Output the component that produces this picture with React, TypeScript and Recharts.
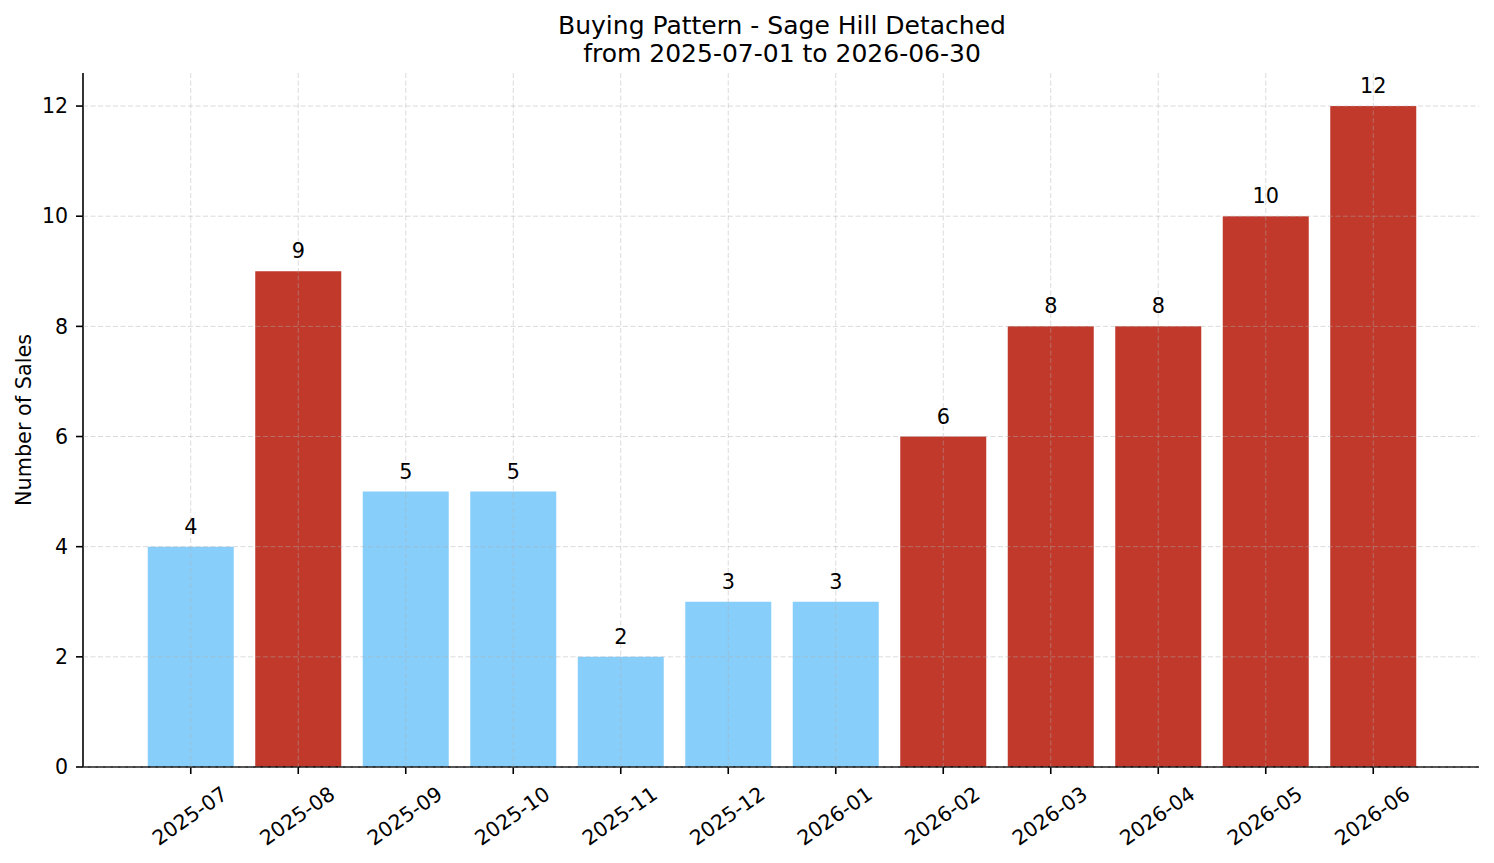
import React from 'react';
import { BarChart, Bar, XAxis, YAxis, CartesianGrid, Cell, LabelList } from 'recharts';

// Monthly sales counts
const months = [
  '2025-07', '2025-08', '2025-09', '2025-10', '2025-11', '2025-12',
  '2026-01', '2026-02', '2026-03', '2026-04', '2026-05', '2026-06',
];
const sales = [4, 9, 5, 5, 2, 3, 3, 6, 8, 8, 10, 12];
const yTicks = [0, 2, 4, 6, 8, 10, 12];

const titleLine1 = 'Buying Pattern - Sage Hill Detached';
const titleLine2 = 'from 2025-07-01 to 2026-06-30';
const yAxisTitle = 'Number of Sales';

const LOW_COLOR = '#87CEFA';
const HIGH_COLOR = '#C0392B';
const FONT = '"DejaVu Sans", Verdana, sans-serif';
const TICK_FONT_SIZE = 20.5;

// Months above the median are highlighted
const sortedSales = [...sales].sort((a, b) => a - b);
const mid = Math.floor(sortedSales.length / 2);
const median =
  sortedSales.length % 2 === 0
    ? (sortedSales[mid - 1] + sortedSales[mid]) / 2
    : sortedSales[mid];

const data = months.map((month, i) => ({ month, sales: sales[i] }));

const W = 1494;
const H = 863;

const MonthTick = (props: any) => {
  const { x, y, payload } = props;
  const cy = y + 42;
  return (
    <text
      x={x - 1}
      y={cy}
      textAnchor="middle"
      dominantBaseline="central"
      transform={`rotate(-35, ${x - 1}, ${cy})`}
      fontSize={TICK_FONT_SIZE}
      fontFamily={FONT}
      fill="#000"
    >
      {payload.value}
    </text>
  );
};

const ValueLabel = (props: any) => {
  const { x, y, width, value } = props;
  return (
    <text
      x={x + width / 2}
      y={y - 13}
      textAnchor="middle"
      fontSize={20.8}
      fontFamily={FONT}
      fill="#000"
    >
      {value}
    </text>
  );
};

export default function App() {
  return (
    <div style={{ position: 'absolute', left: 0, top: 0, width: W, height: H, background: '#fff' }}>
      <BarChart
        width={W}
        height={H}
        data={data}
        margin={{ top: 73, right: 15, bottom: 0, left: 0 }}
        barCategoryGap="10%"
        style={{ fontFamily: FONT }}
      >
        <XAxis
          dataKey="month"
          height={96}
          interval={0}
          padding={{ left: 54, right: 52 }}
          axisLine={{ stroke: '#000', strokeWidth: 1.6 }}
          tickLine={{ stroke: '#000', strokeWidth: 1.6 }}
          tickSize={7}
          tickMargin={0}
          tick={<MonthTick />}
        />
        <YAxis
          width={83}
          domain={[0, 12.6]}
          ticks={yTicks}
          allowDataOverflow
          axisLine={{ stroke: '#000', strokeWidth: 1.6 }}
          tickLine={{ stroke: '#000', strokeWidth: 1.6 }}
          tickSize={7}
          tickMargin={8}
          tick={{ fill: '#000', fontSize: TICK_FONT_SIZE, fontFamily: FONT }}
        />
        <Bar dataKey="sales" isAnimationActive={false}>
          {data.map((d) => (
            <Cell key={d.month} fill={d.sales > median ? HIGH_COLOR : LOW_COLOR} />
          ))}
          <LabelList dataKey="sales" content={<ValueLabel />} />
        </Bar>
        <CartesianGrid
          stroke="#b0b0b0"
          strokeOpacity={0.45}
          strokeWidth={1}
          strokeDasharray="5 2.5"
          horizontalValues={yTicks}
          verticalValues={months}
          zIndex={600}
        />
      </BarChart>
      <svg
        width={W}
        height={H}
        style={{ position: 'absolute', left: 0, top: 0, pointerEvents: 'none' }}
      >
        <text x={782} y={34} textAnchor="middle" fontSize={25} fontFamily={FONT} fill="#000">
          {titleLine1}
        </text>
        <text x={782} y={62} textAnchor="middle" fontSize={25} fontFamily={FONT} fill="#000">
          {titleLine2}
        </text>
        <text
          x={31}
          y={420}
          textAnchor="middle"
          transform="rotate(-90, 31, 420)"
          fontSize={20.8}
          fontFamily={FONT}
          fill="#000"
        >
          {yAxisTitle}
        </text>
      </svg>
    </div>
  );
}
